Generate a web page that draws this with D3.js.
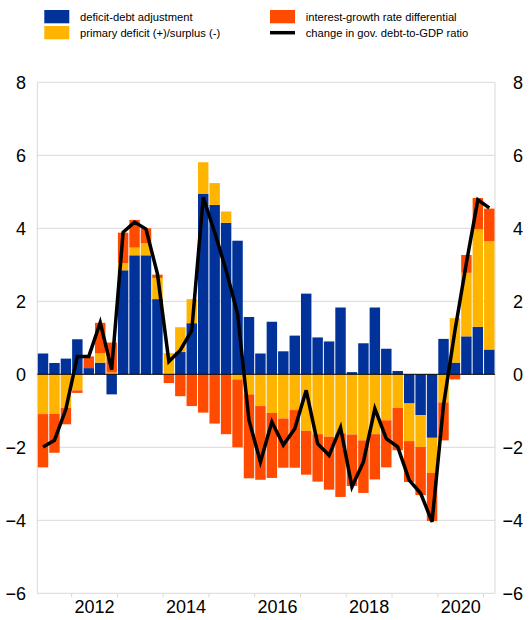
<!DOCTYPE html>
<html><head><meta charset="utf-8">
<script src="https://cdn.jsdelivr.net/npm/d3@7"></script>
<style>body{margin:0;background:#fff}text{font-family:"Liberation Sans",Arial,sans-serif}</style>
</head><body><svg id="c" width="531" height="620"></svg>
<script>
const quarters = ["2011Q2","2011Q3","2011Q4",
"2012Q1","2012Q2","2012Q3","2012Q4","2013Q1","2013Q2","2013Q3","2013Q4",
"2014Q1","2014Q2","2014Q3","2014Q4","2015Q1","2015Q2","2015Q3","2015Q4",
"2016Q1","2016Q2","2016Q3","2016Q4","2017Q1","2017Q2","2017Q3","2017Q4",
"2018Q1","2018Q2","2018Q3","2018Q4","2019Q1","2019Q2","2019Q3","2019Q4",
"2020Q1","2020Q2","2020Q3","2020Q4","2021Q1"];
const yearTicks = ["2012Q1","2013Q1","2014Q1","2015Q1","2016Q1","2017Q1","2018Q1","2019Q1","2020Q1","2021Q1"];
const yearLabels = ["2012","2014","2016","2018","2020"];
const yTicks = [-6,-4,-2,0,2,4,6,8];

const deficitDebt = [0.57,0.31,0.43,0.96,0.17,0.32,-0.55,2.85,3.26,3.26,2.06,0.00,0.61,1.40,4.94,4.64,4.15,3.66,1.57,0.57,1.44,0.63,1.06,2.21,1.01,0.90,1.83,0.06,0.85,1.83,0.70,0.09,-0.80,-1.12,-1.74,0.97,0.32,1.04,1.30,0.68];
const primaryDeficit = [-1.09,-1.08,-0.92,-0.44,0.00,0.26,0.05,0.20,0.21,0.33,0.58,0.58,0.68,0.66,0.87,0.60,0.31,-0.14,-0.55,-0.87,-1.06,-1.21,-0.98,-1.55,-1.64,-1.71,-1.62,-1.65,-1.81,-1.64,-1.26,-0.92,-1.03,-0.87,-0.96,-0.77,1.22,1.74,2.67,2.97];
const interestGrowth = [-1.46,-1.07,-0.45,-0.07,0.32,0.83,0.82,0.83,0.76,0.41,0.09,-0.24,-0.60,-0.87,-1.05,-1.35,-1.64,-1.86,-2.30,-2.02,-1.78,-1.35,-1.58,-1.20,-1.30,-1.45,-1.74,-1.41,-1.44,-1.24,-1.29,-1.16,-1.12,-1.32,-1.32,-1.04,-0.14,0.49,0.86,0.89];
const debtChange = [-1.99,-1.81,-0.95,0.49,0.49,1.42,0.13,3.89,4.17,3.98,2.75,0.35,0.66,1.20,4.85,3.89,2.85,1.66,-1.26,-2.40,-1.30,-1.94,-1.49,-0.44,-1.90,-2.22,-1.46,-3.08,-2.40,-0.94,-1.76,-1.99,-2.90,-3.26,-4.04,-0.85,1.20,3.05,4.78,4.56];

const seriesNames = ["deficit-debt adjustment","primary deficit (+)/surplus (-)","interest-growth rate differential"];
const lineName = "change in gov. debt-to-GDP ratio";
const colors = ["#003299","#FFB400","#FF4B00"];

const svg = d3.select("#c");
const L = 37.3, R = 495, T = 82.3, B = 593.3;
const x = d3.scaleBand().domain(quarters).range([L, R]).padding(0);
const y = d3.scaleLinear().domain([-6, 8]).range([B, T]);
const bw = x.bandwidth();

// grid
svg.append("g").selectAll("line").data(yTicks.filter(v => v !== 0)).join("line")
  .attr("x1", L).attr("x2", R).attr("y1", d => y(d)).attr("y2", d => y(d))
  .attr("stroke", "#d9d9d9").attr("stroke-width", 1);
svg.append("g").selectAll("line").data([L, R]).join("line")
  .attr("x1", d => d).attr("x2", d => d).attr("y1", T).attr("y2", B)
  .attr("stroke", "#d9d9d9").attr("stroke-width", 1);

// bottom ticks
svg.append("g").selectAll("line").data(yearTicks).join("line")
  .attr("x1", d => x(d)).attr("x2", d => x(d)).attr("y1", B).attr("y2", B + 4)
  .attr("stroke", "#d9d9d9").attr("stroke-width", 1);

// stacked bars
const table = quarters.map((q, i) => ({q, 0: deficitDebt[i], 1: primaryDeficit[i], 2: interestGrowth[i]}));
const stacked = d3.stack().keys([0, 1, 2]).offset(d3.stackOffsetDiverging)(table);
svg.append("g").selectAll("g").data(stacked).join("g")
  .attr("fill", (d, i) => colors[i])
  .selectAll("rect").data(d => d).join("rect")
  .attr("x", d => x(d.data.q) + 0.5)
  .attr("width", bw - 1)
  .attr("y", d => y(Math.max(d[0], d[1])))
  .attr("height", d => Math.abs(y(d[0]) - y(d[1])));

// zero line
svg.append("line").attr("x1", L).attr("x2", R).attr("y1", y(0)).attr("y2", y(0))
  .attr("stroke", "#000").attr("stroke-width", 1);

// line
const line = d3.line().x((d, i) => x(quarters[i]) + bw / 2).y(d => y(d));
svg.append("path").datum(debtChange).attr("d", line)
  .attr("fill", "none").attr("stroke", "#000").attr("stroke-width", 3.5)
  .attr("stroke-linejoin", "miter");

// axes
const yl = d3.axisLeft(y).tickValues(yTicks).tickSize(0).tickPadding(0).tickFormat(d3.format("d"));
const gl = svg.append("g").attr("transform", `translate(26,0)`).call(yl);
const yr = d3.axisLeft(y).tickValues(yTicks).tickSize(0).tickPadding(0).tickFormat(d3.format("d"));
const gr = svg.append("g").attr("transform", `translate(523,0)`).call(yr);
[gl, gr].forEach(g => {
  g.select(".domain").remove();
  g.selectAll("text").attr("font-size", 18).attr("fill", "#000")
    .attr("font-family", "'Liberation Sans',Arial,sans-serif");
});
svg.append("g").selectAll("text").data(yearLabels).join("text")
  .attr("x", d => x(d + "Q3")).attr("y", 613.3)
  .attr("text-anchor", "middle").attr("font-size", 18).attr("fill", "#000")
  .text(d => d);

// legend
const leg = svg.append("g").attr("font-size", 11.2).attr("fill", "#000");
const legItems = [
  {name: seriesNames[0], c: colors[0], sx: 44.3, tx: 80, sy: 10, ty: 21.3},
  {name: seriesNames[1], c: colors[1], sx: 44.3, tx: 80, sy: 26, ty: 37.3},
  {name: seriesNames[2], c: colors[2], sx: 270, tx: 305.7, sy: 10, ty: 21.3}
];
legItems.forEach(d => {
  leg.append("rect").attr("x", d.sx).attr("y", d.sy).attr("width", 25).attr("height", 13.3).attr("fill", d.c);
  leg.append("text").attr("x", d.tx).attr("y", d.ty).text(d.name);
});
leg.append("line").attr("x1", 270).attr("x2", 295).attr("y1", 32.7).attr("y2", 32.7)
  .attr("stroke", "#000").attr("stroke-width", 3.5);
leg.append("text").attr("x", 305.7).attr("y", 37.3).text(lineName);
</script></body></html>
